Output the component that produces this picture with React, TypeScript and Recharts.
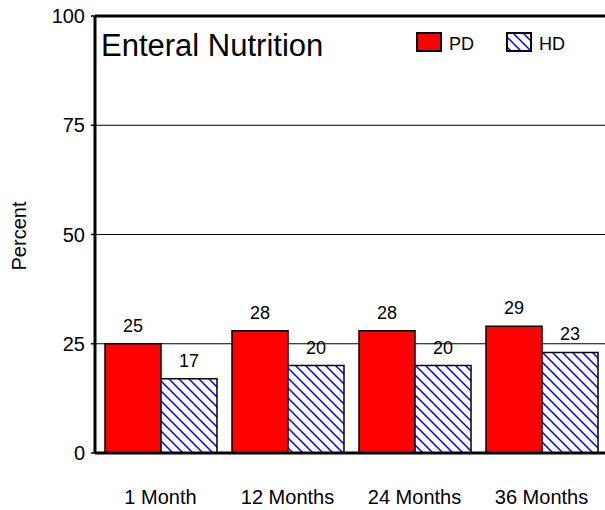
import React from 'react';
import { BarChart, Bar, XAxis, YAxis, CartesianGrid, ReferenceLine, LabelList } from 'recharts';

const categories = ['1 Month', '12 Months', '24 Months', '36 Months'];
const pdValues = [25, 28, 28, 29];
const hdValues = [17, 20, 20, 23];
const yTicks = [0, 25, 50, 75, 100];
const seriesNames = ['PD', 'HD'];
const chartTitle = 'Enteral Nutrition';
const yLabel = 'Percent';

const data = categories.map((c, i) => ({ name: c, PD: pdValues[i], HD: hdValues[i] }));

const FONT = '"Liberation Sans", Arial, sans-serif';

const YTick = (props: any) => {
  const { x, y, payload } = props;
  return (
    <text x={x - 4} y={y} dy="0.36em" textAnchor="end" fontSize={20} fill="#000" fontFamily={FONT}>
      {payload.value}
    </text>
  );
};

const XTick = (props: any) => {
  const { x, payload } = props;
  return (
    <text x={x} y={504} textAnchor="middle" fontSize={20} fill="#000" fontFamily={FONT}>
      {payload.value}
    </text>
  );
};

export default function App() {
  return (
    <div style={{ position: 'absolute', left: 0, top: 0, width: 605, height: 510, background: '#fff' }}>
      <svg width={0} height={0} style={{ position: 'absolute' }}>
        <defs>
          <pattern id="hatch" patternUnits="userSpaceOnUse" width={10} height={10}>
            <rect x={0} y={0} width={10} height={10} fill="#fff" />
            <path d="M0,0 L10,10 M-2,8 L2,12 M8,-2 L12,2" stroke="#0000ff" strokeWidth={1.5} />
          </pattern>
        </defs>
      </svg>
      <BarChart
        width={605}
        height={510}
        data={data}
        margin={{ top: 16, right: 0, left: 0, bottom: 0 }}
        barCategoryGap={8}
        barGap={0}
        style={{ fontFamily: FONT }}
      >
        <CartesianGrid horizontal vertical={false} stroke="#000" strokeWidth={1} />
        <XAxis
          dataKey="name"
          height={57}
          padding={{ left: 2, right: 0 }}
          axisLine={{ stroke: '#000', strokeWidth: 3 }}
          tickLine={false}
          tick={<XTick />}
          interval={0}
        />
        <YAxis
          width={95}
          domain={[0, 100]}
          ticks={yTicks}
          interval={0}
          axisLine={{ stroke: '#000', strokeWidth: 3 }}
          tickLine={{ stroke: '#000', strokeWidth: 1.5 }}
          tickSize={4}
          tick={<YTick />}
          label={{
            content: () => (
              <text x={19} y={236} transform="rotate(-90 19 236)" textAnchor="middle" dy="0.36em" fontSize={20} fill="#000" fontFamily={FONT}>
                {yLabel}
              </text>
            ),
          }}
        />
        <ReferenceLine y={100} stroke="#000" strokeWidth={3} />
        <Bar dataKey="PD" name={seriesNames[0]} fill="#ff0000" stroke="#000" strokeWidth={1.5} isAnimationActive={false}>
          <LabelList dataKey="PD" position="top" offset={12} fontSize={18} fill="#000" fontFamily={FONT} />
        </Bar>
        <Bar dataKey="HD" name={seriesNames[1]} fill="url(#hatch)" stroke="#000" strokeWidth={1.5} isAnimationActive={false}>
          <LabelList dataKey="HD" position="top" offset={12} fontSize={18} fill="#000" fontFamily={FONT} />
        </Bar>
      </BarChart>
      <svg width={605} height={80} style={{ position: 'absolute', left: 0, top: 0, pointerEvents: 'none' }}>
        <text x={101} y={56} fontSize={31} fill="#000" fontFamily={FONT}>{chartTitle}</text>
        <rect x={417} y={33} width={24} height={18} fill="#ff0000" stroke="#000" strokeWidth={2} />
        <text x={449} y={50} fontSize={18} fill="#000" fontFamily={FONT}>{seriesNames[0]}</text>
        <rect x={507} y={33} width={24} height={18} fill="url(#hatch)" stroke="#000" strokeWidth={2} />
        <text x={539} y={50} fontSize={18} fill="#000" fontFamily={FONT}>{seriesNames[1]}</text>
      </svg>
    </div>
  );
}
